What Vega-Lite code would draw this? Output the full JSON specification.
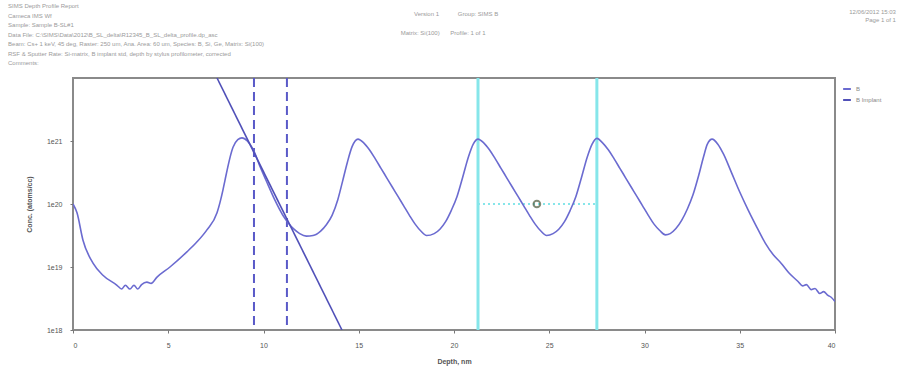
{
  "$schema": "https://vega.github.io/schema/vega-lite/v6.json",
  "width": 762,
  "height": 252,
  "autosize": {"type": "none"},
  "padding": {"left": 73, "top": 78, "right": 64, "bottom": 42},
  "background": "white",
  "config": {
    "view": {"stroke": "#8a8a8a", "strokeWidth": 2},
    "font": "Liberation Sans",
    "axis": {"domain": false, "grid": false, "labelFontSize": 7, "labelColor": "#555", "titleFontSize": 7, "titleColor": "#555", "tickColor": "#777", "tickSize": 3}
  },
  "datasets": {
    "profile": [
      {"d": 0, "c": 1.0e20, "s": "B"}, {"d": 0.21, "c": 7.24e19, "s": "B"}, {"d": 0.52, "c": 2.69e19, "s": "B"}, {"d": 1.05, "c": 1.15e19, "s": "B"}, {"d": 1.57, "c": 7.41e18, "s": "B"},
      {"d": 2.31, "c": 5.13e18, "s": "B"}, {"d": 2.55, "c": 4.47e18, "s": "B"}, {"d": 2.75, "c": 5.13e18, "s": "B"}, {"d": 2.99, "c": 4.47e18, "s": "B"}, {"d": 3.2, "c": 5.13e18, "s": "B"},
      {"d": 3.4, "c": 4.47e18, "s": "B"}, {"d": 3.6, "c": 5.25e18, "s": "B"}, {"d": 3.88, "c": 5.75e18, "s": "B"}, {"d": 4.1, "c": 5.5e18, "s": "B"}, {"d": 4.41, "c": 6.92e18, "s": "B"},
      {"d": 5.09, "c": 1.0e19, "s": "B"}, {"d": 5.98, "c": 1.74e19, "s": "B"}, {"d": 6.51, "c": 2.51e19, "s": "B"}, {"d": 7.03, "c": 3.89e19, "s": "B"}, {"d": 7.56, "c": 7.24e19, "s": "B"},
      {"d": 7.87, "c": 1.66e20, "s": "B"}, {"d": 7.98, "c": 2.4e20, "s": "B"}, {"d": 8.4, "c": 7.94e20, "s": "B"}, {"d": 8.65, "c": 1.05e21, "s": "B"}, {"d": 8.87, "c": 1.12e21, "s": "B"},
      {"d": 9.15, "c": 1.0e21, "s": "B"}, {"d": 9.45, "c": 7.41e20, "s": "B"}, {"d": 9.8, "c": 4.07e20, "s": "B"}, {"d": 10.2, "c": 2.14e20, "s": "B"}, {"d": 10.6, "c": 1.15e20, "s": "B"},
      {"d": 11.0, "c": 6.76e19, "s": "B"}, {"d": 11.3, "c": 5.01e19, "s": "B"}, {"d": 11.6, "c": 3.98e19, "s": "B"}, {"d": 11.9, "c": 3.39e19, "s": "B"}, {"d": 12.25, "c": 3.09e19, "s": "B"},
      {"d": 12.6, "c": 3.16e19, "s": "B"}, {"d": 13.0, "c": 3.72e19, "s": "B"}, {"d": 13.3, "c": 4.68e19, "s": "B"}, {"d": 13.6, "c": 6.61e19, "s": "B"}, {"d": 13.9, "c": 1.17e20, "s": "B"},
      {"d": 14.15, "c": 2.29e20, "s": "B"}, {"d": 14.4, "c": 4.57e20, "s": "B"}, {"d": 14.65, "c": 8.13e20, "s": "B"}, {"d": 14.96, "c": 1.07e21, "s": "B"},
      {"d": 15.26, "c": 9.33e20, "s": "B"}, {"d": 15.56, "c": 7.24e20, "s": "B"}, {"d": 15.86, "c": 5.25e20, "s": "B"}, {"d": 16.16, "c": 3.72e20, "s": "B"}, {"d": 16.46, "c": 2.63e20, "s": "B"},
      {"d": 16.76, "c": 1.86e20, "s": "B"}, {"d": 17.06, "c": 1.32e20, "s": "B"}, {"d": 17.36, "c": 9.33e19, "s": "B"}, {"d": 17.66, "c": 6.61e19, "s": "B"}, {"d": 17.96, "c": 4.79e19, "s": "B"},
      {"d": 18.26, "c": 3.72e19, "s": "B"}, {"d": 18.56, "c": 3.16e19, "s": "B"}, {"d": 18.96, "c": 3.39e19, "s": "B"}, {"d": 19.26, "c": 3.98e19, "s": "B"}, {"d": 19.56, "c": 5.25e19, "s": "B"},
      {"d": 19.86, "c": 7.94e19, "s": "B"}, {"d": 20.16, "c": 1.32e20, "s": "B"}, {"d": 20.46, "c": 2.69e20, "s": "B"}, {"d": 20.76, "c": 5.62e20, "s": "B"}, {"d": 21.01, "c": 8.91e20, "s": "B"},
      {"d": 21.26, "c": 1.07e21, "s": "B"}, {"d": 21.56, "c": 9.33e20, "s": "B"}, {"d": 21.86, "c": 7.24e20, "s": "B"}, {"d": 22.16, "c": 5.25e20, "s": "B"}, {"d": 22.46, "c": 3.72e20, "s": "B"},
      {"d": 22.76, "c": 2.63e20, "s": "B"}, {"d": 23.06, "c": 1.86e20, "s": "B"}, {"d": 23.36, "c": 1.32e20, "s": "B"}, {"d": 23.66, "c": 9.33e19, "s": "B"}, {"d": 23.96, "c": 6.61e19, "s": "B"},
      {"d": 24.26, "c": 4.79e19, "s": "B"}, {"d": 24.56, "c": 3.72e19, "s": "B"}, {"d": 24.86, "c": 3.16e19, "s": "B"}, {"d": 25.2, "c": 3.39e19, "s": "B"}, {"d": 25.5, "c": 3.98e19, "s": "B"},
      {"d": 25.8, "c": 5.25e19, "s": "B"}, {"d": 26.1, "c": 7.94e19, "s": "B"}, {"d": 26.4, "c": 1.32e20, "s": "B"}, {"d": 26.7, "c": 2.69e20, "s": "B"}, {"d": 27.0, "c": 5.62e20, "s": "B"},
      {"d": 27.25, "c": 8.91e20, "s": "B"}, {"d": 27.5, "c": 1.1e21, "s": "B"}, {"d": 27.8, "c": 9.33e20, "s": "B"}, {"d": 28.1, "c": 7.24e20, "s": "B"}, {"d": 28.4, "c": 5.25e20, "s": "B"},
      {"d": 28.7, "c": 3.72e20, "s": "B"}, {"d": 29.0, "c": 2.63e20, "s": "B"}, {"d": 29.3, "c": 1.86e20, "s": "B"}, {"d": 29.6, "c": 1.32e20, "s": "B"}, {"d": 29.9, "c": 9.33e19, "s": "B"},
      {"d": 30.2, "c": 6.61e19, "s": "B"}, {"d": 30.5, "c": 4.79e19, "s": "B"}, {"d": 30.8, "c": 3.8e19, "s": "B"}, {"d": 31.1, "c": 3.24e19, "s": "B"}, {"d": 31.35, "c": 3.39e19, "s": "B"},
      {"d": 31.65, "c": 4.07e19, "s": "B"}, {"d": 31.95, "c": 5.5e19, "s": "B"}, {"d": 32.25, "c": 8.32e19, "s": "B"}, {"d": 32.55, "c": 1.41e20, "s": "B"}, {"d": 32.85, "c": 2.88e20, "s": "B"},
      {"d": 33.1, "c": 5.62e20, "s": "B"}, {"d": 33.3, "c": 8.91e20, "s": "B"}, {"d": 33.55, "c": 1.07e21, "s": "B"}, {"d": 33.85, "c": 8.91e20, "s": "B"}, {"d": 34.15, "c": 6.17e20, "s": "B"},
      {"d": 34.55, "c": 3.24e20, "s": "B"}, {"d": 35.0, "c": 1.55e20, "s": "B"}, {"d": 35.45, "c": 7.94e19, "s": "B"}, {"d": 35.9, "c": 4.27e19, "s": "B"}, {"d": 36.34, "c": 2.4e19, "s": "B"},
      {"d": 36.75, "c": 1.58e19, "s": "B"}, {"d": 37.17, "c": 1.15e19, "s": "B"}, {"d": 37.6, "c": 7.94e18, "s": "B"}, {"d": 38.06, "c": 5.89e18, "s": "B"}, {"d": 38.3, "c": 5.01e18, "s": "B"},
      {"d": 38.5, "c": 5.25e18, "s": "B"}, {"d": 38.75, "c": 4.37e18, "s": "B"}, {"d": 38.95, "c": 4.57e18, "s": "B"}, {"d": 39.2, "c": 3.8e18, "s": "B"}, {"d": 39.4, "c": 4.07e18, "s": "B"},
      {"d": 39.63, "c": 3.55e18, "s": "B"}, {"d": 39.8, "c": 3.31e18, "s": "B"}, {"d": 40.0, "c": 2.82e18, "s": "B"}
    ],
    "fit": [
      {"d": 7.56, "c": 1.0e22, "s": "B Implant"},
      {"d": 14.12, "c": 1.0e18, "s": "B Implant"}
    ],
    "dashed": [{"d": 9.5}, {"d": 11.23}],
    "cyan": [{"d": 21.26}, {"d": 27.5}],
    "span": [{"d1": 21.26, "d2": 27.5, "c": 1.0e20}],
    "marker": [{"d": 24.35, "c": 1.0e20}],
    "hdrLeft": [{"d": -3.41, "t": ["SIMS Depth Profile Report", "Cameca IMS Wf", "Sample: Sample B-SL#1", "Data File: C:\\SIMS\\Data\\2012\\B_SL_delta\\R12345_B_SL_delta_profile.dp_asc", "Beam: Cs+ 1 keV, 45 deg, Raster: 250 um, Ana. Area: 60 um, Species: B, Si, Ge, Matrix: Si(100)", "RSF & Sputter Rate: Si-matrix, B implant std, depth by stylus profilometer, corrected", "Comments:"]}],
    "hdrCenter1": [{"t": "Group: SIMS B", "d": 20.2}, {"t": "Version 1", "d": 17.9}],
    "hdrCenter2": [{"t": "Profile: 1 of 1", "d": 19.8}, {"t": "Matrix: Si(100)", "d": 17.2}],
    "hdrRight1": [{"t": "12/06/2012 15:03", "d": 43.2}],
    "hdrRight2": [{"t": "Page 1 of 1", "d": 43.2}]
  },
  "layer": [
    {
      "data": {"name": "cyan"},
      "mark": {"type": "rule", "color": "#86e6ea", "strokeWidth": 3},
      "encoding": {"x": {"field": "d", "type": "quantitative"}}
    },
    {
      "data": {"name": "span"},
      "mark": {"type": "rule", "color": "#86e6ea", "strokeWidth": 2, "strokeDash": [2, 3]},
      "encoding": {
        "x": {"field": "d1", "type": "quantitative"},
        "x2": {"field": "d2"},
        "y": {"field": "c", "type": "quantitative"}
      }
    },
    {
      "data": {"name": "dashed"},
      "mark": {"type": "rule", "color": "#5a5ac8", "strokeWidth": 2, "strokeDash": [9, 5]},
      "encoding": {"x": {"field": "d", "type": "quantitative"}}
    },
    {
      "data": {"name": "profile"},
      "mark": {"type": "line", "strokeWidth": 1.6, "interpolate": "monotone", "clip": true},
      "encoding": {
        "x": {"field": "d", "type": "quantitative", "scale": {"domain": [0, 40], "nice": false, "zero": false}, "axis": {"values": [0, 5, 10, 15, 20, 25, 30, 35, 40], "title": "Depth, nm", "titlePadding": 9, "labelPadding": 8}},
        "y": {"field": "c", "type": "quantitative", "scale": {"type": "log", "domain": [1e18, 1e22], "nice": false}, "axis": {"values": [1e18, 1e19, 1e20, 1e21], "labelExpr": "'1e' + round(log(datum.value) / LN10)", "title": "Conc. (atoms/cc)", "titlePadding": 14, "labelPadding": 8}},
        "color": {"field": "s", "type": "nominal", "scale": {"domain": ["B", "B Implant"], "range": ["#6b6bd0", "#5050b8"]}, "legend": {"orient": "none", "legendX": 769, "legendY": 6, "title": null, "symbolType": "stroke", "symbolStrokeWidth": 2, "symbolSize": 60, "labelFontSize": 6, "labelColor": "#888", "rowPadding": 2}}
      }
    },
    {
      "data": {"name": "fit"},
      "mark": {"type": "line", "strokeWidth": 1.6, "clip": true},
      "encoding": {
        "x": {"field": "d", "type": "quantitative"},
        "y": {"field": "c", "type": "quantitative"},
        "color": {"field": "s", "type": "nominal"}
      }
    },
    {
      "data": {"name": "marker"},
      "mark": {"type": "point", "shape": "circle", "filled": false, "stroke": "#4d5a3c", "strokeWidth": 2, "size": 45},
      "encoding": {
        "x": {"field": "d", "type": "quantitative"},
        "y": {"field": "c", "type": "quantitative"}
      }
    },
    {
      "data": {"name": "hdrLeft"},
      "mark": {"type": "text", "fontSize": 6, "color": "#9a9a9a", "align": "left", "baseline": "middle", "lineHeight": 9.5, "dy": -72},
      "encoding": {"x": {"field": "d", "type": "quantitative"}, "y": {"datum": 1e22}, "text": {"field": "t"}}
    },
    {
      "data": {"name": "hdrCenter1"},
      "mark": {"type": "text", "fontSize": 6, "color": "#9a9a9a", "align": "left", "baseline": "middle", "dy": -64},
      "encoding": {"x": {"field": "d", "type": "quantitative"}, "y": {"datum": 1e22}, "text": {"field": "t"}}
    },
    {
      "data": {"name": "hdrCenter2"},
      "mark": {"type": "text", "fontSize": 6, "color": "#9a9a9a", "align": "left", "baseline": "middle", "dy": -45},
      "encoding": {"x": {"field": "d", "type": "quantitative"}, "y": {"datum": 1e22}, "text": {"field": "t"}}
    },
    {
      "data": {"name": "hdrRight1"},
      "mark": {"type": "text", "fontSize": 6, "color": "#9a9a9a", "align": "right", "baseline": "middle", "dy": -66},
      "encoding": {"x": {"field": "d", "type": "quantitative"}, "y": {"datum": 1e22}, "text": {"field": "t"}}
    },
    {
      "data": {"name": "hdrRight2"},
      "mark": {"type": "text", "fontSize": 6, "color": "#9a9a9a", "align": "right", "baseline": "middle", "dy": -58},
      "encoding": {"x": {"field": "d", "type": "quantitative"}, "y": {"datum": 1e22}, "text": {"field": "t"}}
    }
  ]
}
